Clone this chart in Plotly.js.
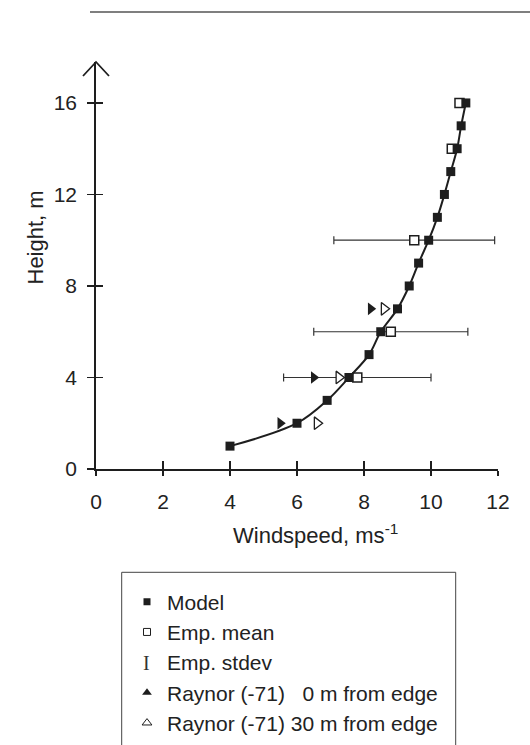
<!DOCTYPE html>
<html>
<head>
<meta charset="utf-8">
<script src="https://cdn.plot.ly/plotly-3.0.1.min.js"></script>
<style>html,body{margin:0;padding:0;background:#fff;}#chart{width:530px;height:745px;}</style>
</head>
<body>
<div id="chart"></div>
<script>
// ---- data ----
const modelHeight = [1, 2, 3, 4, 5, 6, 7, 8, 9, 10, 11, 12, 13, 14, 15, 16];
const modelSpeed  = [4.0, 6.0, 6.9, 7.55, 8.15, 8.5, 9.0, 9.35, 9.63, 9.93, 10.19, 10.4, 10.59, 10.78, 10.9, 11.04];

const empHeight = [4, 6, 10, 14, 16];
const empMean   = [7.8, 8.8, 9.5, 10.62, 10.85];
const empStdev  = [2.2, 2.3, 2.4, 0, 0];

const raynorHeight = [2, 4, 7];
const raynor0Speed  = [5.5, 6.5, 8.2];
const raynor30Speed = [6.6, 7.25, 8.6];

const xTicks = [0, 2, 4, 6, 8, 10, 12];
const yTicks = [0, 4, 8, 12, 16];

const legendLabels = ['Model', 'Emp. mean', 'Emp. stdev',
  'Raynor (-71) \u20070 m from edge', 'Raynor (-71) 30 m from edge'];

// ---- styling ----
const INK = '#1e1e1e';
const FONT = '"Liberation Sans", Arial, Helvetica, sans-serif';

// pixel -> paper helpers (plot area: x 96..498, y 62..469)
const L = 96, R = 498, T = 62, B = 469;
const px = v => (v - L) / (R - L);
const py = v => (B - v) / (B - T);

const traces = [
  { // empirical mean with stdev
    x: empMean, y: empHeight, type: 'scatter', mode: 'markers', showlegend: false,
    marker: { symbol: 'square', size: 9, color: '#ffffff', line: { color: INK, width: 1.5 } },
    error_x: { type: 'data', array: empStdev, visible: true, color: '#333', thickness: 1.2, width: 4 }
  },
  { // model
    x: modelSpeed, y: modelHeight, type: 'scatter', mode: 'lines+markers', showlegend: false,
    line: { color: INK, width: 2, shape: 'spline', smoothing: 1 },
    marker: { symbol: 'square', size: 9, color: INK }
  },
  {
    x: raynor0Speed, y: raynorHeight, type: 'scatter', mode: 'markers', showlegend: false,
    marker: { symbol: 'triangle-right', size: 11, color: INK }
  },
  {
    x: raynor30Speed, y: raynorHeight, type: 'scatter', mode: 'markers', showlegend: false,
    marker: { symbol: 'triangle-right', size: 11, color: '#ffffff', line: { color: INK, width: 1.3 } }
  },
  // overlay axes for inward tick halves
  { x: [null], y: [null], xaxis: 'x2', yaxis: 'y2', type: 'scatter', mode: 'markers', showlegend: false, hoverinfo: 'skip' },
  // legend entries
  { x: [null], y: [null], type: 'scatter', mode: 'markers', name: legendLabels[0],
    marker: { symbol: 'square', size: 7, color: INK } },
  { x: [null], y: [null], type: 'scatter', mode: 'markers', name: legendLabels[1],
    marker: { symbol: 'square', size: 7, color: '#ffffff', line: { color: INK, width: 1 } } },
  { x: [null], y: [null], type: 'scatter', mode: 'markers', name: legendLabels[2],
    marker: { symbol: 'square', size: 1, color: 'rgba(0,0,0,0)' } },
  { x: [null], y: [null], type: 'scatter', mode: 'markers', name: legendLabels[3],
    marker: { symbol: 'triangle-up', size: 8.5, color: INK } },
  { x: [null], y: [null], type: 'scatter', mode: 'markers', name: legendLabels[4],
    marker: { symbol: 'triangle-up', size: 8.5, color: '#ffffff', line: { color: INK, width: 1 } } }
];

const yTop = 17.79;
const axisCommon = { showgrid: false, zeroline: false, showline: true, linecolor: INK, linewidth: 1.8,
  ticks: 'outside', tickcolor: INK, tickwidth: 1.5, tickfont: { family: FONT, size: 21, color: '#222' } };

const layout = {
  width: 530, height: 745,
  margin: { l: L, r: 530 - R, t: T, b: 745 - B, autoexpand: false },
  paper_bgcolor: '#fff', plot_bgcolor: '#fff',
  showlegend: true,
  legend: { x: px(127), y: py(581.5), xanchor: 'left', yanchor: 'top',
    bgcolor: 'rgba(0,0,0,0)', borderwidth: 0, font: { family: FONT, size: 21, color: '#222' } },
  xaxis: Object.assign({}, axisCommon, { range: [0, 12], tickvals: xTicks, ticklen: 5, ticklabelstandoff: 8 }),
  yaxis: Object.assign({}, axisCommon, { range: [0, yTop], tickvals: yTicks, ticklen: 7, ticklabelstandoff: 6 }),
  xaxis2: { overlaying: 'x', anchor: 'y2', range: [0, 12], tickvals: xTicks, ticks: 'inside', ticklen: 8,
    tickwidth: 1.5, tickcolor: INK, showticklabels: false, showline: false, showgrid: false, zeroline: false },
  yaxis2: { overlaying: 'y', anchor: 'x2', range: [0, yTop], tickvals: yTicks, ticks: 'inside', ticklen: 7,
    tickwidth: 1.5, tickcolor: INK, showticklabels: false, showline: false, showgrid: false, zeroline: false },
  shapes: [
    { type: 'line', xref: 'paper', yref: 'paper', x0: px(90), x1: px(532), y0: py(12), y1: py(12),
      line: { color: '#555', width: 1.5 } },
    { type: 'path', xref: 'paper', yref: 'paper',
      path: 'M ' + px(83) + ',' + py(76) + ' L ' + px(96) + ',' + py(62) + ' L ' + px(109) + ',' + py(76),
      line: { color: INK, width: 1.8 } },
    { type: 'rect', xref: 'paper', yref: 'paper', x0: px(121.7), x1: px(455.7), y0: py(572.3), y1: py(770),
      line: { color: '#444', width: 1 }, fillcolor: 'rgba(0,0,0,0)' }
  ],
  annotations: [
    { text: 'Windspeed, ms<sup>-1</sup>', xref: 'paper', yref: 'paper', x: px(315), y: py(534),
      xanchor: 'center', yanchor: 'middle', showarrow: false, font: { family: FONT, size: 22, color: '#222' } },
    { text: 'Height, m', xref: 'paper', yref: 'paper', x: px(35), y: py(237.5), textangle: -90,
      xanchor: 'center', yanchor: 'middle', showarrow: false, font: { family: FONT, size: 22, color: '#222' } },
    { text: 'I', xref: 'paper', yref: 'paper', x: px(146.7), y: py(663),
      xanchor: 'center', yanchor: 'middle', showarrow: false,
      font: { family: '"Liberation Serif", "DejaVu Serif", serif', size: 20, color: '#333' } }
  ]
};

Plotly.newPlot('chart', traces, layout, { staticPlot: true, displayModeBar: false });
</script>
</body>
</html>
